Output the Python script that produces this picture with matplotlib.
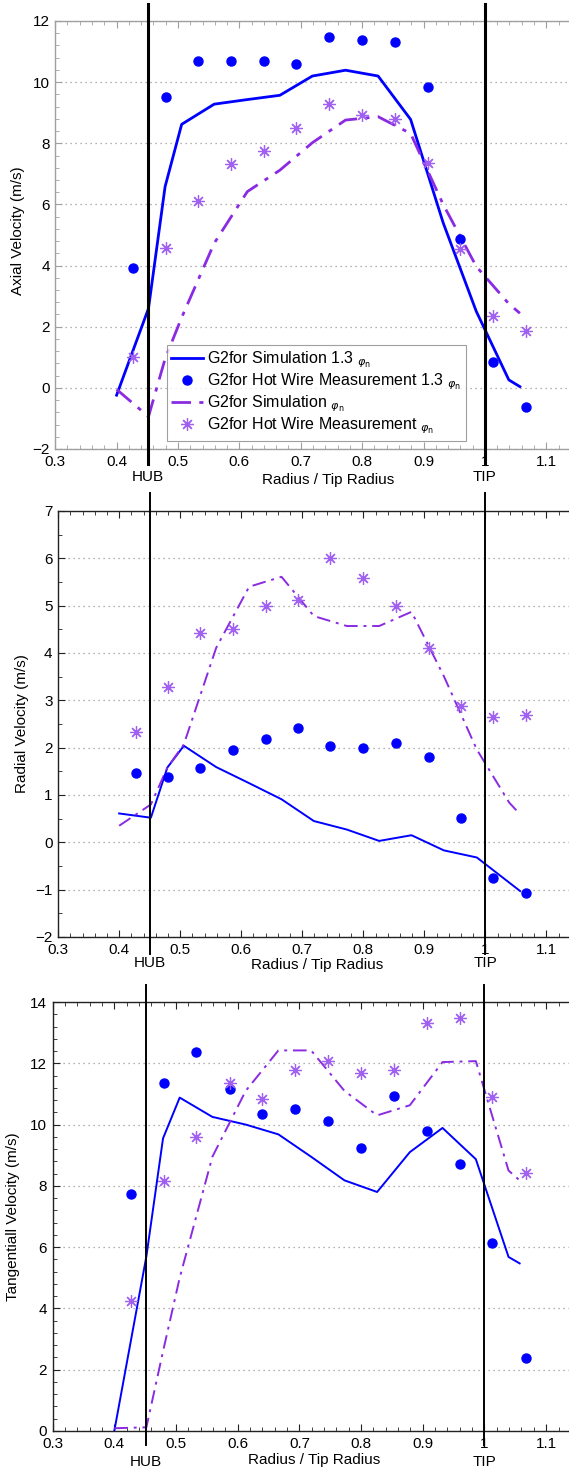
import matplotlib
matplotlib.use("Agg")
import matplotlib.pyplot as plt
import numpy as np

plt.rcParams['font.family'] = ['Liberation Sans', 'DejaVu Sans']
plt.rcParams['mathtext.fontset'] = 'dejavusans'

# ---------------- data ----------------
x_sim = [0.400, 0.452, 0.479, 0.506, 0.559, 0.613, 0.666, 0.719, 0.773, 0.826, 0.879, 0.932, 0.986, 1.039, 1.057]
x_meas = [0.427, 0.480, 0.533, 0.587, 0.640, 0.693, 0.746, 0.800, 0.853, 0.907, 0.960, 1.013, 1.067]

# Axial velocity
axial_sim_13 = [-0.24, 2.60, 6.58, 8.62, 9.28, 9.43, 9.57, 10.20, 10.39, 10.20, 8.78, 5.40, 2.50, 0.26, 0.04]
axial_meas_13 = [3.93, 9.50, 10.69, 10.68, 10.70, 10.60, 11.49, 11.37, 11.30, 9.83, 4.88, 0.84, -0.62]
axial_sim_n = [-0.05, -0.94, 0.95, 2.30, 4.73, 6.42, 7.12, 8.02, 8.76, 8.87, 8.32, 6.00, 3.97, 2.75, 2.44]
axial_meas_n = [1.00, 4.58, 6.10, 7.31, 7.75, 8.51, 9.29, 8.92, 8.79, 7.37, 4.53, 2.35, 1.87]

# Radial velocity
radial_sim_13 = [0.61, 0.52, 1.58, 2.04, 1.59, 1.25, 0.91, 0.45, 0.27, 0.03, 0.15, -0.17, -0.32, -0.85, -1.03]
radial_meas_13 = [1.47, 1.37, 1.56, 1.96, 2.19, 2.42, 2.04, 1.99, 2.09, 1.80, 0.51, -0.75, -1.07]
radial_sim_n = [0.35, 0.80, 1.58, 2.07, 4.11, 5.40, 5.61, 4.78, 4.57, 4.57, 4.87, 3.51, 1.96, 0.84, 0.59]
radial_meas_n = [2.34, 3.28, 4.42, 4.50, 4.99, 5.13, 6.00, 5.59, 4.99, 4.11, 2.88, 2.65, 2.68]

# Tangential velocity
tang_sim_13 = [0.00, 5.70, 9.55, 10.88, 10.25, 10.00, 9.68, 8.95, 8.18, 7.80, 9.10, 9.89, 8.87, 5.68, 5.47]
tang_meas_13 = [7.75, 11.37, 12.37, 11.17, 10.36, 10.51, 10.12, 9.24, 10.93, 9.78, 8.71, 6.14, 2.39]
tang_sim_n = [0.09, 0.12, 2.60, 5.00, 8.95, 11.10, 12.42, 12.42, 11.10, 10.30, 10.63, 12.04, 12.07, 8.50, 8.18]
tang_meas_n = [4.25, 8.16, 9.58, 11.36, 10.85, 11.79, 12.08, 11.67, 11.79, 13.32, 13.49, 10.90, 8.42]

x_ticks = [0.3, 0.4, 0.5, 0.6, 0.7, 0.8, 0.9, 1.0, 1.1]
x_ticklabels = ['0.3', '0.4', '0.5', '0.6', '0.7', '0.8', '0.9', '1', '1.1']
hub_x = 0.451
tip_x = 1.0

phi = '$_{\\varphi_{\\mathrm{n}}}$'
labels = ['G2for Simulation 1.3 ' + phi,
          'G2for Hot Wire Measurement 1.3 ' + phi,
          'G2for Simulation ' + phi,
          'G2for Hot Wire Measurement ' + phi]

blue = '#0000ff'
purple = '#8a2be2'
star_c = '#a060f0'
FS = 11

W, H = 569, 1471
fig = plt.figure(figsize=(W / 100, H / 100), dpi=100)


def make_axes(left_px, top_px, bottom_px):
    l = left_px / W
    b = 1 - bottom_px / H
    h = (bottom_px - top_px) / H
    return fig.add_axes([l, b, 1 - l, h])


panels = [
    dict(left=55.2, top=21, bottom=449, ylim=(-2, 12), yticks=np.arange(-2, 13, 2), yminor=0.4,
         ylabel='Axial Velocity (m/s)', ylab_xy=(-0.058, 0.509),
         sim13=axial_sim_13, meas13=axial_meas_13, simn=axial_sim_n, measn=axial_meas_n,
         lw=2.0, spine='#a0a0a0', vlw=2.2, vext=(-0.035, 1.04),
         hub_y=-0.066, xlab=(0.745, -0.073), legend=True),
    dict(left=58.1, top=511, bottom=937, ylim=(-2, 7), yticks=np.arange(-2, 8, 1), yminor=0.5,
         ylabel='Radial Velocity (m/s)', ylab_xy=(-0.057, 0.50),
         sim13=radial_sim_13, meas13=radial_meas_13, simn=radial_sim_n, measn=radial_meas_n,
         lw=1.4, spine='#222222', vlw=1.4, vext=(-0.04, 1.042),
         hub_y=-0.061, xlab=(0.724, -0.066), legend=False),
    dict(left=52.6, top=1002, bottom=1431, ylim=(0, 14), yticks=np.arange(0, 15, 2), yminor=0.4,
         ylabel='Tangentiall Velocity (m/s)', ylab_xy=(-0.063, 0.50),
         sim13=tang_sim_13, meas13=tang_meas_13, simn=tang_sim_n, measn=tang_meas_n,
         lw=1.4, spine='#222222', vlw=1.4, vext=(-0.033, 1.04),
         hub_y=-0.072, xlab=(0.724, -0.068), legend=False),
]

for p in panels:
    ax = make_axes(p['left'], p['top'], p['bottom'])
    ax.set_xlim(0.3, 1.137)
    ax.set_ylim(*p['ylim'])
    ax.set_xticks(x_ticks)
    ax.set_xticklabels(x_ticklabels)
    ax.set_xticks(np.arange(0.3, 1.14, 0.02), minor=True)
    ax.set_yticks(p['yticks'])
    ax.set_yticks(np.arange(p['ylim'][0], p['ylim'][1] + 1e-6, p['yminor']), minor=True)
    ax.tick_params(which='both', direction='in', top=True, right=False,
                   colors=p['spine'], labelcolor='black', labelsize=FS)
    ax.tick_params(which='major', length=5, width=0.8)
    ax.tick_params(which='minor', length=3, width=0.6)
    ax.tick_params(axis='x', pad=4)
    ax.tick_params(axis='y', pad=4)
    for s in ['left', 'top', 'bottom']:
        ax.spines[s].set_color(p['spine'])
        ax.spines[s].set_linewidth(1.0)
    ax.spines['right'].set_visible(False)
    ax.yaxis.grid(True, which='major', linestyle=(0, (1, 3)), color='#999999', linewidth=0.9)
    ax.set_axisbelow(True)

    ax.plot(x_sim, p['sim13'], color=blue, lw=p['lw'], label=labels[0], zorder=3)
    ax.plot(x_meas, p['meas13'], linestyle='none', marker='o', markersize=6.5,
            color=blue, label=labels[1], zorder=4)
    ax.plot(x_sim, p['simn'], color=purple, lw=p['lw'], linestyle=(0, (7, 3, 1.5, 3)),
            label=labels[2], zorder=3)
    ax.plot(x_meas, p['measn'], linestyle='none', marker=(8, 2, 0), markersize=9,
            markeredgewidth=0.9, color=star_c, label=labels[3], zorder=4)

    for xv in (hub_x, tip_x):
        ax.axvline(xv, ymin=p['vext'][0], ymax=p['vext'][1], color='black',
                   lw=p['vlw'], clip_on=False, zorder=5)
    tr = ax.get_xaxis_transform()
    ax.text(hub_x, p['hub_y'], 'HUB', transform=tr, ha='center', va='center', fontsize=FS)
    ax.text(tip_x, p['hub_y'], 'TIP', transform=tr, ha='center', va='center', fontsize=FS)
    ax.text(p['xlab'][0], p['xlab'][1], 'Radius / Tip Radius', transform=tr,
            ha='center', va='center', fontsize=FS)
    ax.set_ylabel(p['ylabel'], fontsize=FS)
    ax.yaxis.set_label_coords(*p['ylab_xy'])

    if p['legend']:
        leg = ax.legend(loc='lower left', bbox_to_anchor=(0.217, 0.019), fontsize=11.5,
                        frameon=True, fancybox=False, edgecolor='#888888',
                        borderpad=0.3, labelspacing=0.08, handlelength=2.0,
                        handletextpad=0.25, borderaxespad=0)
        leg.get_frame().set_linewidth(0.8)

fig.savefig('out.png', dpi=100)
